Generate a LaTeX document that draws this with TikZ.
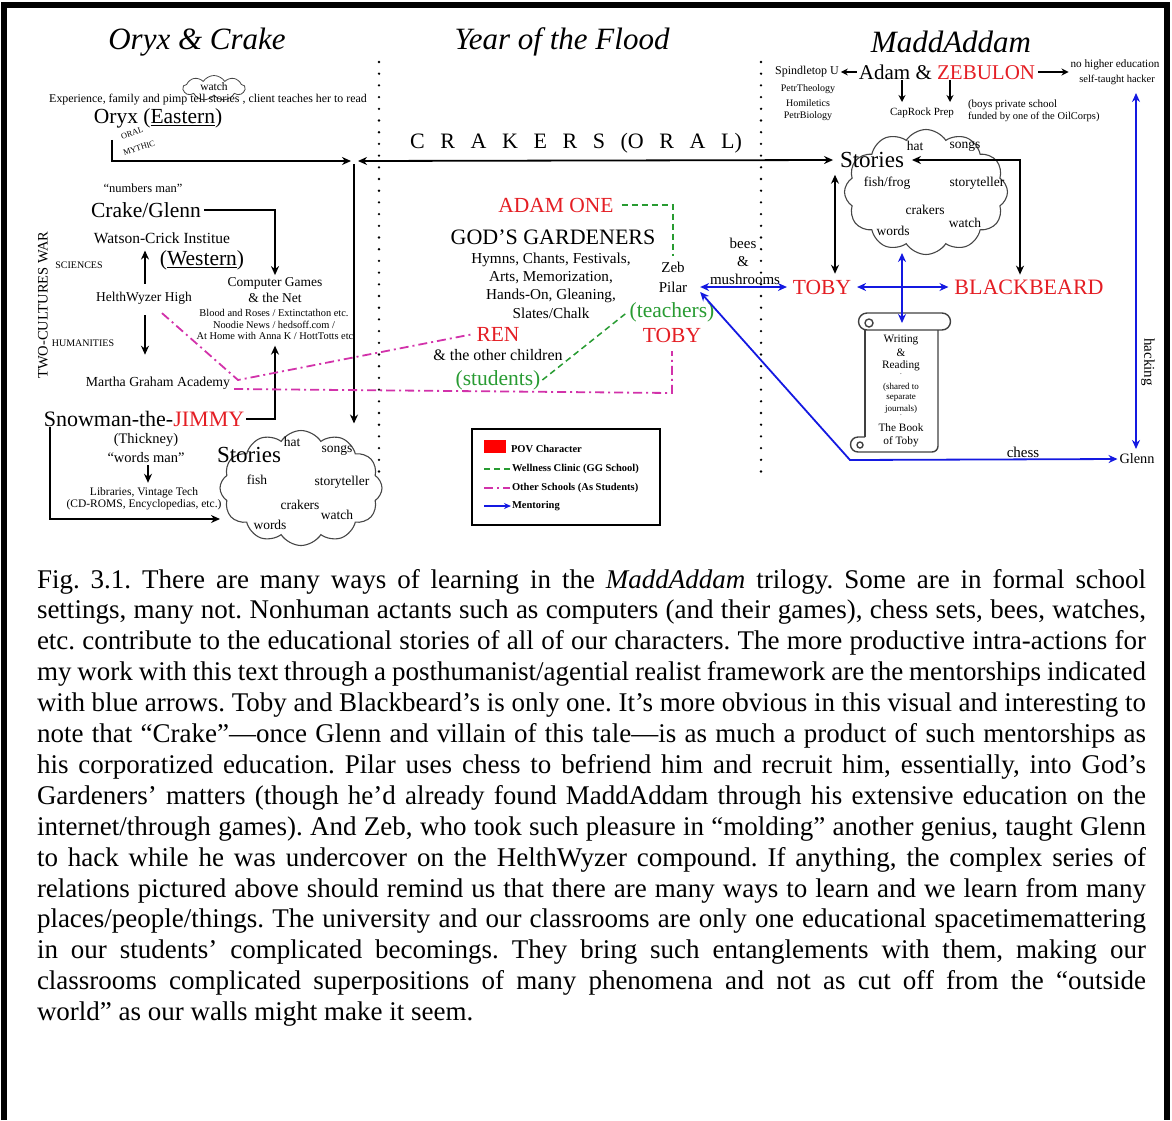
\documentclass[tikz,border=0pt]{standalone}
\usepackage{fontspec}
\setmainfont{Liberation Serif}
\usetikzlibrary{shapes.symbols,arrows.meta,calc}
\definecolor{povred}{RGB}{228,30,36}
\definecolor{ggreen}{RGB}{40,155,50}
\definecolor{pk}{RGB}{210,50,170}
\definecolor{bblue}{RGB}{20,25,225}
\definecolor{cgray}{RGB}{70,70,70}
\newcommand{\fz}[1]{\fontsize{#1}{#1}\selectfont}
\frenchspacing
\begin{document}
\begin{tikzpicture}[x=1pt,y=-1pt,
 >={Stealth[length=9pt,width=8pt]},
 lbl/.style={inner sep=0pt,outer sep=0pt},
 conn/.style={line width=1.8pt},
 blu/.style={line width=1.8pt, draw=bblue, <->},
 ggl/.style={draw=ggreen, line width=1.5pt, dash pattern=on 6pt off 4pt},
 pkl/.style={draw=pk, line width=1.8pt, dash pattern=on 9pt off 4pt on 2pt off 4pt},
 dotl/.style={line width=2.6pt, line cap=round, dash pattern=on 0pt off 11.7pt},
 cld/.style={cloud, draw=cgray, line width=1.1pt, cloud puffs=12, cloud puff arc=115, cloud ignores aspect, inner sep=0pt, outer sep=0pt},
 sarr/.style={line width=1.6pt, -{Stealth[length=7pt,width=7pt]}},
 capl/.style={lbl, anchor=base west, font=\fz{27}},
]
\useasboundingbox (0,0) rectangle (1172,1120);
% frame
\draw[line width=5.5pt] (4,1120) -- (4,5) -- (1167,5) -- (1167,1120);

% dotted separators
\draw[dotl] (379,62) -- (379,474);
\draw[dotl] (761,62) -- (761,474);

% titles
\node[lbl,font=\fz{31}\itshape] (tOC) at (197,42) {Oryx \& Crake};
\node[lbl,font=\fz{31}\itshape] (tYF) at (562,42) {Year of the Flood};
\node[lbl,font=\fz{31}\itshape] (tMA) at (951,42) {MaddAddam};

% ---------- left column ----------
\node[cld, cloud puffs=9, minimum width=62pt, minimum height=25pt, line width=0.8pt] (wcl) at (214,88) {};
\node[lbl,font=\fz{11.5}] (watchT) at (214,87) {watch};
\node[lbl,font=\fz{11.9}] (exp) at (208,100) {Experience, family and pimp tell stories , client teaches her to read};
\node[lbl,font=\fz{21.5}] (oryx) at (158,118) {Oryx (\underline{Eastern})};
\node[lbl,font=\fz{8.3},rotate=18] (oral) at (132,133) {ORAL};
\node[lbl,font=\fz{8.3},rotate=18] (mythic) at (139,148) {MYTHIC};

\coordinate (jL) at (351,161);
\coordinate (jR) at (358,161);
\coordinate (jD) at (354,164);
\draw[conn,->] ([xshift=-46pt,yshift=-12pt]oryx.south) |- (jL);

\node[lbl,font=\fz{12.5}] (numbers) at (143,188) {“numbers man”};
\node[lbl,font=\fz{21.5}] (crake) at (146,210) {Crake/Glenn};
\node[lbl,font=\fz{15.5}] (watson) at (162,238) {Watson-Crick Institue};
\node[lbl,font=\fz{10}] (sci) at (79,265) {SCIENCES};
\node[lbl,font=\fz{21.5}] (western) at (202,260) {(\underline{Western})};
\node[lbl,font=\fz{13.5}] (comp) at (275,283) {Computer Games};
\node[lbl,font=\fz{13.5}] (net) at (275,298) {\& the Net};
\node[lbl,font=\fz{13.5}] (helth) at (144,298) {HelthWyzer High};
\node[lbl,font=\fz{10.4}] (blood) at (274,313) {Blood and Roses / Extinctathon etc.};
\node[lbl,font=\fz{10.4}] (noodie) at (274,325) {Noodie News / hedsoff.com /};
\node[lbl,font=\fz{10.4}] (anna) at (275,336) {At Home with Anna K / HottTotts etc};
\node[lbl,font=\fz{10}] (hum) at (83,343) {HUMANITIES};
\node[lbl,font=\fz{14.5},rotate=90] (two) at (43,305) {TWO-CULTURES WAR};
\node[lbl,font=\fz{13.8}] (martha) at (158,383) {Martha Graham Academy};
\node[lbl,font=\fz{22}] (jimmy) at (144,419) {Snowman-the-\textcolor{povred}{JIMMY}};
\node[lbl,font=\fz{14.5}] (thick) at (146,440) {(Thickney)};
\node[lbl,font=\fz{14.5}] (wordsman) at (146,458) {“words man”};
\node[lbl,font=\fz{11.5}] (lib) at (144,493) {Libraries, Vintage Tech};
\node[lbl,font=\fz{11.5}] (cd) at (144,505) {(CD-ROMS, Encyclopedias, etc.)};

\draw[conn,->] ([xshift=3pt]crake.east) -| ([yshift=2pt]comp.north);
\draw[conn,->] ([xshift=1pt,yshift=8pt]helth.north) -- ([xshift=1pt,yshift=-7pt]helth.north |- watson.south);
\draw[conn,->] ([xshift=1pt,yshift=-11pt]helth.south) -- ([xshift=1pt,yshift=22pt]helth.south |- martha.north);
\draw[conn,->] ([xshift=2pt]jimmy.east) -| ([yshift=-6pt]anna.south);
\draw[conn,->] ([xshift=2pt,yshift=-2pt]wordsman.south) -- ([xshift=2pt,yshift=5pt]wordsman.south |- lib.north);
\coordinate (cLin) at (220,519);
\draw[conn,->] ([xshift=6pt]jimmy.south west) |- (cLin);

% left stories cloud
\node[cld, minimum width=162pt, minimum height=115pt] (cloudL) at (301,488) {};
\node[lbl,font=\fz{23}] (storiesL) at (249,455) {Stories};
\node[lbl,font=\fz{13.5}] (hatL) at (292,442) {hat};
\node[lbl,font=\fz{13.5}] (songsL) at (337,450) {songs};
\node[lbl,font=\fz{13.5}] (fishL) at (257,480) {fish};
\node[lbl,font=\fz{13.5}] (stL) at (342,482) {storyteller};
\node[lbl,font=\fz{13.5}] (crL) at (300,505) {crakers};
\node[lbl,font=\fz{13.5}] (watchL) at (337,515) {watch};
\node[lbl,font=\fz{13.5}] (wordsL) at (270,525) {words};
\draw[conn,->] (jD) -- ([yshift=7pt]jD |- cloudL.north);

% crakers line
\node[lbl,font=\fz{22}] (crk) at (576,143) {\makebox[332pt][s]{C\hfill R\hfill A\hfill K\hfill E\hfill R\hfill S\hfill (O\hfill R\hfill A\hfill L)}};

% ---------- middle column ----------
\node[lbl,font=\fz{21.5},text=povred] (adam1) at (556,205) {ADAM ONE};
\node[lbl,font=\fz{22}] (gg) at (553,237) {GOD’S GARDENERS};
\node[lbl,font=\fz{15.2}] (hy1) at (551,260) {Hymns, Chants, Festivals,};
\node[lbl,font=\fz{15.2}] (hy2) at (551,278) {Arts, Memorization,};
\node[lbl,font=\fz{15.2}] (hy3) at (551,296) {Hands-On, Gleaning,};
\node[lbl,font=\fz{15.2}] (hy4) at (551,313) {Slates/Chalk};
\node[lbl,font=\fz{15}] (zeb) at (673,267) {Zeb};
\node[lbl,font=\fz{15}] (pilar) at (673,287) {Pilar};
\node[lbl,font=\fz{21.5},text=ggreen] (teach) at (672,312) {(teachers)};
\node[lbl,font=\fz{21.5},text=povred] (tobyM) at (672,335) {TOBY};
\node[lbl,font=\fz{21.5},text=povred] (ren) at (498,334) {REN};
\node[lbl,font=\fz{16}] (other) at (498,355) {\& the other children};
\node[lbl,font=\fz{21.5},text=ggreen] (stud) at (498,380) {(students)};
\node[lbl,font=\fz{15}] (bees) at (743,243) {bees};
\node[lbl,font=\fz{15}] (ampb) at (743,262) {\&};
\node[lbl,font=\fz{15}] (mush) at (745,279) {mushrooms};

\draw[ggl] ([xshift=8pt]adam1.east) -| ([yshift=6pt]zeb.north);
\draw[ggl] ([xshift=2pt]stud.east) -- ([xshift=-2pt]teach.west);

\coordinate (pk1) at (238,380);
\coordinate (pk2) at (672,393);
\draw[pkl] ([xshift=18pt,yshift=-9pt]helth.south) -- (pk1) -- ([xshift=-3pt]ren.west);
\draw[pkl] ([xshift=4pt,yshift=-6pt]martha.east) -- (pk2) -- ([yshift=-9pt]tobyM.south);

% legend
\draw[line width=1.8pt] (472,429) rectangle (660,525);
\fill[red] (484,440) rectangle (506,453);
\node[lbl,anchor=west,font=\fz{10.5}\bfseries] (lg1) at (511,449) {POV Character};
\draw[ggl] (484,469) -- (510,469);
\node[lbl,anchor=west,font=\fz{10.5}\bfseries] (lg2) at (512,469) {Wellness Clinic (GG School)};
\draw[pkl] (484,488) -- (510,488);
\node[lbl,anchor=west,font=\fz{10.5}\bfseries] (lg3) at (512,488) {Other Schools (As Students)};
\draw[line width=1.6pt, draw=bblue, -{Stealth[length=7pt,width=6pt]}] (484,506) -- (511,506);
\node[lbl,anchor=west,font=\fz{10.5}\bfseries] (lg4) at (512,506) {Mentoring};

% ---------- right column ----------
\node[lbl,font=\fz{21}] (adamZ) at (947,72) {Adam \& \textcolor{povred}{ZEBULON}};
\node[lbl,font=\fz{12}] (spindle) at (807,72) {Spindletop U};
\node[lbl,font=\fz{10}] (petr) at (808,89) {PetrTheology};
\node[lbl,font=\fz{10}] (homil) at (808,103) {Homiletics};
\node[lbl,font=\fz{10}] (petrb) at (808,116) {PetrBiology};
\node[lbl,font=\fz{11}] (cap) at (922,113) {CapRock Prep};
\node[lbl,anchor=west,font=\fz{11}] (boys) at (968,105) {(boys private school};
\node[lbl,anchor=west,font=\fz{10.5}] (funded) at (968,117) {funded by one of the OilCorps)};
\node[lbl,font=\fz{11.2}] (nohigh) at (1115,65) {no higher education};
\node[lbl,font=\fz{10.5}] (selft) at (1117,80) {self-taught hacker};

\draw[sarr] ([xshift=-2pt]adamZ.west) -- ([xshift=2pt]spindle.east);
\draw[sarr] ([xshift=3pt]adamZ.east) -- ([xshift=-2pt]nohigh.west |- adamZ.east);
\draw[sarr] ([xshift=-20pt,yshift=-1pt]cap.north |- adamZ.south) -- ([xshift=-20pt,yshift=6pt]cap.north);
\draw[sarr] ([xshift=28pt,yshift=-1pt]cap.north |- adamZ.south) -- ([xshift=28pt,yshift=6pt]cap.north);

% right stories cloud
\node[cld, minimum width=163pt, minimum height=125pt] (cloudR) at (926,192) {};
\node[lbl,font=\fz{23}] (storiesR) at (872,160) {Stories};
\node[lbl,font=\fz{13.5}] (hatR) at (915,146) {hat};
\node[lbl,font=\fz{13.5}] (songsR) at (965,146) {songs};
\node[lbl,font=\fz{13.5}] (fishR) at (887,183) {fish/frog};
\node[lbl,font=\fz{13.5}] (stR) at (977,183) {storyteller};
\node[lbl,font=\fz{13.5}] (crR) at (925,210) {crakers};
\node[lbl,font=\fz{13.5}] (watchR) at (965,223) {watch};
\node[lbl,font=\fz{13.5}] (wordsR) at (893,231) {words};

\draw[conn,<->] (jR) -- ([xshift=-7pt]storiesR.west);

\node[lbl,font=\fz{21.5},text=povred] (tobyR) at (822,287) {TOBY};
\node[lbl,font=\fz{22},text=povred] (blackb) at (1029,287) {BLACKBEARD};

\draw[conn,<->] ([xshift=8pt]storiesR.east) -| ([xshift=-9pt,yshift=5pt]blackb.north);
\draw[conn,<->] ([xshift=13pt,yshift=6pt]tobyR.north) -- ([xshift=13pt,yshift=-7pt]tobyR.north |- storiesR.south);

\draw[blu] ([xshift=6pt]tobyR.east) -- ([xshift=-6pt]blackb.west);
\coordinate (vT) at (902,253);
\coordinate (scrollTop) at (902,323);

% scroll (y axis points down: angle 90 = down, 270 = up)
\begin{scope}[draw=black!75, line width=1.4pt]
\draw (867,313) -- (942,313) arc[start angle=270,end angle=450,radius=8.5] -- (867,330);
\draw (867,313) arc[start angle=270,end angle=90,radius=8.5];
\draw (869,323) circle[radius=4];
\draw (865,330) -- (865,437);
\draw (938,330) -- (938,446) arc[start angle=0,end angle=90,radius=6] -- (858,452);
\draw (858,452) arc[start angle=90,end angle=270,radius=7.5] -- (865,437);
\draw (860,445) circle[radius=3];
\end{scope}
\draw[blu] (vT) -- (scrollTop);
\node[lbl,font=\fz{11.3}] (sc1) at (901,340) {Writing};
\node[lbl,font=\fz{11.3}] (sc2) at (901,353) {\&};
\node[lbl,font=\fz{11.3}] (sc3) at (901,366) {Reading};
\node[lbl,font=\fz{7}] (scd1) at (901,374) {.};
\node[lbl,font=\fz{9}] (sc4) at (901,387) {(shared to};
\node[lbl,font=\fz{9}] (sc5) at (901,398) {separate};
\node[lbl,font=\fz{9}] (sc6) at (901,409) {journals)};
\node[lbl,font=\fz{7}] (scd2) at (901,415) {.};
\node[lbl,font=\fz{11.3}] (sc7) at (901,428) {The Book};
\node[lbl,font=\fz{11.3}] (sc8) at (901,442) {of Toby};

\draw[blu] ([xshift=13pt]pilar.east) -- ([xshift=-6pt]tobyR.west);
\node[lbl,font=\fz{14.3}] (glenn) at (1137,459) {Glenn};
\node[lbl,font=\fz{15}] (chess) at (1023,452) {chess};
\coordinate (chb) at (850,460);
\draw[blu] ([xshift=13pt,yshift=-5pt]pilar.east) -- (chb) -- ([xshift=-2pt]glenn.west);
\coordinate (hkT) at (1136,93);
\draw[blu] (hkT) -- ([xshift=-1pt,yshift=5pt]glenn.north);
\node[lbl,font=\fz{15},rotate=-90] (hack) at (1148,362) {hacking};

% ---------- caption ----------
\node[capl] (c1) at (37,588.0) {\makebox[1109pt][s]{Fig. 3.1. There are many ways of learning in the \textit{MaddAddam} trilogy. Some are in formal school}};
\node[capl] (c2) at (37,618.9) {\makebox[1109pt][s]{settings, many not. Nonhuman actants such as computers (and their games), chess sets, bees, watches,}};
\node[capl] (c3) at (37,649.8) {\makebox[1109pt][s]{etc. contribute to the educational stories of all of our characters. The more productive intra-actions for}};
\node[capl] (c4) at (37,680.7) {\makebox[1109pt][s]{my work with this text through a posthumanist/agential realist framework are the mentorships indicated}};
\node[capl] (c5) at (37,711.6) {\makebox[1109pt][s]{with blue arrows. Toby and Blackbeard’s is only one. It’s more obvious in this visual and interesting to}};
\node[capl] (c6) at (37,742.5) {\makebox[1109pt][s]{note that “Crake”—once Glenn and villain of this tale—is as much a product of such mentorships as}};
\node[capl] (c7) at (37,773.4) {\makebox[1109pt][s]{his corporatized education. Pilar uses chess to befriend him and recruit him, essentially, into God’s}};
\node[capl] (c8) at (37,804.3) {\makebox[1109pt][s]{Gardeners’ matters (though he’d already found MaddAddam through his extensive education on the}};
\node[capl] (c9) at (37,835.2) {\makebox[1109pt][s]{internet/through games). And Zeb, who took such pleasure in “molding” another genius, taught Glenn}};
\node[capl] (c10) at (37,866.1) {\makebox[1109pt][s]{to hack while he was undercover on the HelthWyzer compound. If anything, the complex series of}};
\node[capl] (c11) at (37,897.0) {\makebox[1109pt][s]{relations pictured above should remind us that there are many ways to learn and we learn from many}};
\node[capl] (c12) at (37,927.9) {\makebox[1109pt][s]{places/people/things. The university and our classrooms are only one educational spacetimemattering}};
\node[capl] (c13) at (37,958.8) {\makebox[1109pt][s]{in our students’ complicated becomings. They bring such entanglements with them, making our}};
\node[capl] (c14) at (37,989.7) {\makebox[1109pt][s]{classrooms complicated superpositions of many phenomena and not as cut off from the “outside}};
\node[capl] (c15) at (37,1020.6) {world” as our walls might make it seem.};
\end{tikzpicture}
\end{document}
